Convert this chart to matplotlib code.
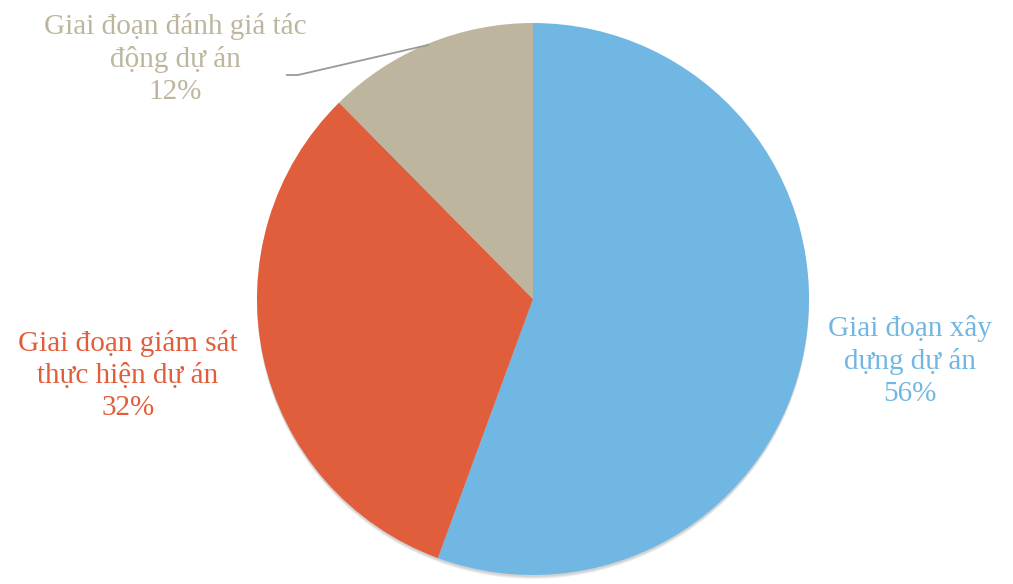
import matplotlib.pyplot as plt
from matplotlib.patches import Circle

labels = ['Giai đoạn xây\ndựng dự án', 'Giai đoạn giám sát\nthực hiện dự án', 'Giai đoạn đánh giá tác\nđộng dự án']
values = [55.6, 32.0, 12.4]
colors = ['#71B7E3', '#E15E3C', '#BDB59D']

plt.rcParams['font.family'] = ['Liberation Serif', 'DejaVu Serif']

fig = plt.figure(figsize=(10.13, 5.84), dpi=100)
ax = fig.add_axes([0, 0, 1, 1])
r = 276
cx, cy = 533, 299

# soft shadow under the pie
for off, a in [(4, 0.05), (3, 0.06), (2, 0.07)]:
    ax.add_patch(Circle((0, -off / r), 1.0, color='black', alpha=a, lw=0, zorder=0))

wedges, _ = ax.pie(values, colors=colors, startangle=90, counterclock=False,
                   radius=1, center=(0, 0), frame=True, wedgeprops=dict(zorder=2))
ax.set_xlim(-cx / r, (1013 - cx) / r)
ax.set_ylim(-(584 - cy) / r, cy / r)
ax.set_aspect('equal')
ax.axis('off')

def px(x, y):
    return ((x - cx) / r, (cy - y) / r)

# label positions in pixel terms
label_pos = [(910, 361), (128, 375), (175, 59)]
for lab, v, c, (x, y) in zip(labels, values, colors, label_pos):
    ax.text(*px(x, y), f'{lab}\n{round(v)}%', color=c, fontsize=21, ha='center', va='center',
            linespacing=1.3)

# leader line for small slice
xs, ys = zip(px(287, 75), px(298, 75), px(428, 45))
ax.plot(xs, ys, color='#999999', lw=1.3)

plt.savefig('out.png', dpi=100)
